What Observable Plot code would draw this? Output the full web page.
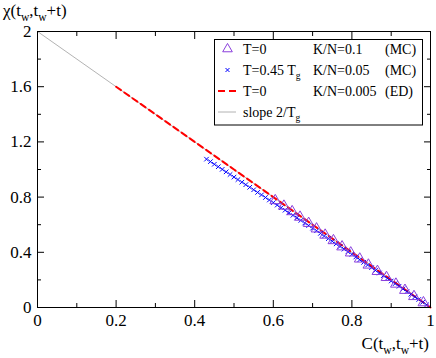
<!DOCTYPE html>
<html><head><meta charset="utf-8">
<script src="https://cdn.jsdelivr.net/npm/d3@7"></script>
<script src="https://cdn.jsdelivr.net/npm/@observablehq/plot@0.6"></script>
<style>body{margin:0;background:#fff} svg, svg text{font-family:"Liberation Serif","Times New Roman","Liberation Sans",Arial,sans-serif !important;}</style>
</head><body><div id="chart"></div>
<script>
// slope 2/Tg reference line
const C_slope = [0, 1];
const chi_slope = [2, 0];
// T=0, K/N=0.005 (ED) dashed red
const C_ed = [0.2, 0.3, 0.4, 0.5, 0.6, 0.7, 0.8, 0.9, 1.0];
const chi_ed = [1.6, 1.4, 1.2, 1.0, 0.8, 0.6, 0.4, 0.2, 0.0];
// T=0, K/N=0.1 (MC) triangles
const C_mc0 = [0.605, 0.627, 0.648, 0.668, 0.69, 0.71, 0.732, 0.753, 0.775, 0.797, 0.82, 0.842, 0.865, 0.888, 0.912, 0.935, 0.958, 0.982];
const chi_mc0 = [0.775, 0.735, 0.695, 0.655, 0.61, 0.57, 0.525, 0.485, 0.44, 0.396, 0.352, 0.308, 0.262, 0.218, 0.17, 0.125, 0.08, 0.035];
// T=0.45 Tg, K/N=0.05 (MC) crosses
const C_mc45 = [0.43,0.44,0.45,0.46,0.47,0.48,0.49,0.50,0.51,0.52,0.53,0.54,0.55,0.56,0.57,0.58,0.59,0.60,0.61,0.62,0.63,0.64,0.65,0.66,0.67,0.68,0.69,0.70,0.71,0.72,0.73,0.74,0.75,0.76,0.77,0.78,0.79,0.80,0.81,0.82,0.83,0.84,0.85,0.86,0.87,0.88,0.89,0.90,0.91,0.92,0.93,0.94,0.95,0.96,0.97,0.98,0.99];
const chi_mc45 = [1.075,1.057,1.038,1.020,1.001,0.983,0.964,0.945,0.927,0.908,0.890,0.871,0.853,0.834,0.816,0.797,0.779,0.760,0.742,0.723,0.705,0.686,0.668,0.649,0.631,0.612,0.594,0.575,0.556,0.537,0.518,0.499,0.480,0.461,0.442,0.423,0.404,0.385,0.366,0.346,0.327,0.308,0.289,0.269,0.250,0.231,0.211,0.192,0.173,0.154,0.135,0.115,0.096,0.077,0.058,0.038,0.019];
// ticks
const xMajor = [0, 0.2, 0.4, 0.6, 0.8, 1];
const xTickLabels = ["0", "0.2", "0.4", "0.6", "0.8", "1"];
const xMinor = [0.1, 0.3, 0.5, 0.7, 0.9];
const yMajor = [0, 0.4, 0.8, 1.2, 1.6, 2];
const yTickLabels = ["0", "0.4", "0.8", "1.2", "1.6", "2"];
const yMinor = [0.2, 0.6, 1.0, 1.4, 1.8];

const zip = (xs, ys) => xs.map((x, i) => ({x, y: ys[i]}));
const blank = () => "";
const ff = "Liberation Serif, Times New Roman, Liberation Sans, Arial, sans-serif";

const plot = Plot.plot({
  width: 436, height: 358,
  marginLeft: 37, marginRight: 6, marginTop: 31, marginBottom: 51,
  style: {fontFamily: ff, fontSize: "17px", background: "white", color: "black"},
  x: {domain: [0, 1]},
  y: {domain: [0, 2]},
  marks: [
    Plot.line(zip(C_slope, chi_slope), {x: "x", y: "y", stroke: "#a0a0a0", strokeWidth: 0.8}),
    Plot.line(zip(C_ed, chi_ed), {x: "x", y: "y", stroke: "#ff0000", strokeWidth: 2, strokeDasharray: "6,4"}),
    Plot.dot(zip(C_mc45, chi_mc45), {x: "x", y: "y", symbol: "times", r: 2.2, stroke: "#0000ff", strokeWidth: 1}),
    Plot.dot(zip(C_mc0, chi_mc0), {x: "x", y: "y", symbol: "triangle", r: 4, stroke: "#8a3fdc", strokeWidth: 1, fill: "none"}),
    Plot.frame({stroke: "black", strokeWidth: 1}),
    Plot.axisX(xMajor, {anchor: "bottom", tickSize: -7, tickFormat: blank, label: null}),
    Plot.axisX(xMinor, {anchor: "bottom", tickSize: -4, tickFormat: blank, label: null}),
    Plot.axisX(xMajor, {anchor: "top", tickSize: -7, tickFormat: blank, label: null}),
    Plot.axisX(xMinor, {anchor: "top", tickSize: -4, tickFormat: blank, label: null}),
    Plot.axisX(xMajor, {anchor: "bottom", tickSize: 0, tickPadding: 6, tickFormat: d => xTickLabels[xMajor.indexOf(d)], label: null, fontSize: 17}),
    Plot.axisY(yMajor, {anchor: "left", tickSize: -7, tickFormat: blank, label: null}),
    Plot.axisY(yMinor, {anchor: "left", tickSize: -4, tickFormat: blank, label: null}),
    Plot.axisY(yMajor, {anchor: "right", tickSize: -7, tickFormat: blank, label: null}),
    Plot.axisY(yMinor, {anchor: "right", tickSize: -4, tickFormat: blank, label: null}),
    Plot.axisY(yMajor, {anchor: "left", tickSize: 0, tickPadding: 6, tickFormat: d => yTickLabels[yMajor.indexOf(d)], label: null, fontSize: 17})
  ]
});
document.getElementById("chart").appendChild(plot);

const svg = d3.select(plot);

function subText(g, x, y, parts, size, anchor) {
  const t = g.append("text").attr("x", x).attr("y", y).style("font-family", ff)
    .attr("font-size", size).attr("fill", "black").attr("text-anchor", anchor || "start");
  let shifted = false;
  parts.forEach(p => {
    const ts = t.append("tspan").text(p.t);
    if (p.sub && !shifted) { ts.attr("dy", size * 0.27).attr("font-size", size * 0.68); shifted = true; }
    else if (p.sub) { ts.attr("font-size", size * 0.68); }
    else if (shifted) { ts.attr("dy", -size * 0.27); shifted = false; }
  });
  return t;
}

// axis titles
subText(svg, 3, 16, [{t: "χ(t"}, {t: "w", sub: true}, {t: ",t"}, {t: "w", sub: true}, {t: "+t)"}], 17);
subText(svg, 429, 349, [{t: "C(t"}, {t: "w", sub: true}, {t: ",t"}, {t: "w", sub: true}, {t: "+t)"}], 17, "end");

// legend
const lg = svg.append("g");
lg.append("rect").attr("x", 214.5).attr("y", 39.5).attr("width", 208).attr("height", 85.5)
  .attr("fill", "white").attr("stroke", "black").attr("stroke-width", 1);
const fs = 14;
const rows = [49, 70, 91, 112];
lg.append("path").attr("d", d3.symbol(d3.symbolTriangle, 40)()).attr("transform", `translate(227.5,${rows[0]})`)
  .attr("fill", "none").attr("stroke", "#8a3fdc");
lg.append("path").attr("d", "M-2,-2L2,2M-2,2L2,-2").attr("transform", `translate(227.5,${rows[1]})`)
  .attr("stroke", "#0000ff").attr("fill", "none");
lg.append("line").attr("x1", 218).attr("x2", 236).attr("y1", rows[2]).attr("y2", rows[2])
  .attr("stroke", "#ff0000").attr("stroke-width", 2).attr("stroke-dasharray", "7,4");
lg.append("line").attr("x1", 218).attr("x2", 236).attr("y1", rows[3]).attr("y2", rows[3])
  .attr("stroke", "#a0a0a0").attr("stroke-width", 0.8);
const base = r => r + 5;
subText(lg, 243, base(rows[0]), [{t: "T=0"}], fs);
subText(lg, 313, base(rows[0]), [{t: "K/N=0.1"}], fs);
subText(lg, 385, base(rows[0]), [{t: "(MC)"}], fs);
subText(lg, 243, base(rows[1]), [{t: "T=0.45 T"}, {t: "g", sub: true}], fs);
subText(lg, 313, base(rows[1]), [{t: "K/N=0.05"}], fs);
subText(lg, 385, base(rows[1]), [{t: "(MC)"}], fs);
subText(lg, 243, base(rows[2]), [{t: "T=0"}], fs);
subText(lg, 313, base(rows[2]), [{t: "K/N=0.005"}], fs);
subText(lg, 385, base(rows[2]), [{t: "(ED)"}], fs);
subText(lg, 243, base(rows[3]), [{t: "slope 2/T"}, {t: "g", sub: true}], fs);
</script></body></html>
